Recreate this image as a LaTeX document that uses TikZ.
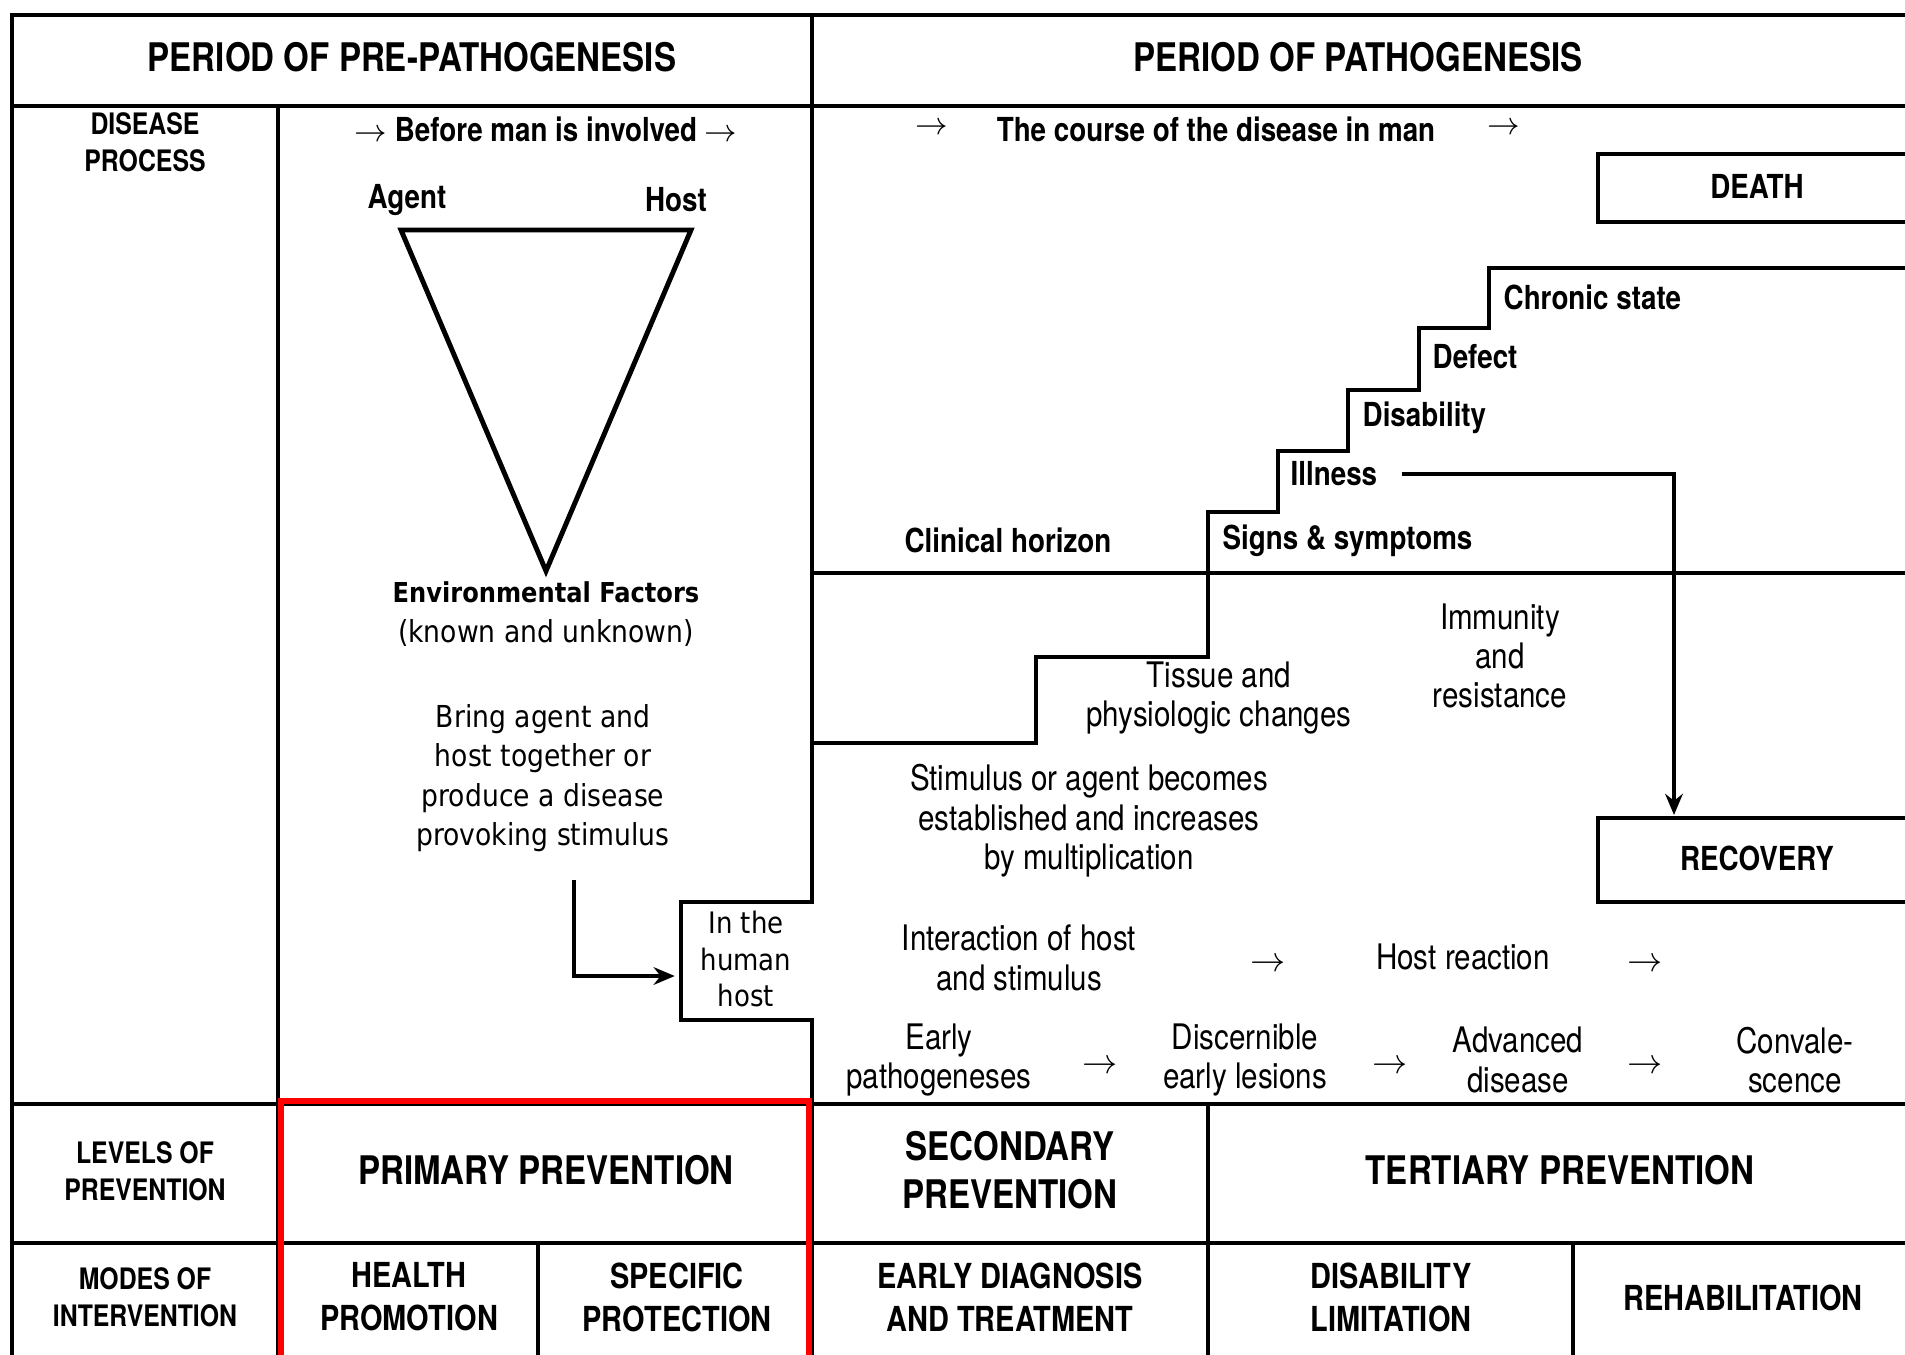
\documentclass[tikz,border=0pt]{standalone}
\usepackage{fontspec}
\setmainfont{TeX Gyre Heros}[FakeStretch=0.84]
\newfontfamily\tahoma{DejaVu Sans}[FakeStretch=0.88]
\usetikzlibrary{arrows.meta}

\newcommand\fsz[2]{\fontsize{#1}{#2}\selectfont}

\begin{document}
\begin{tikzpicture}[x=0.01cm,y=-0.01cm,
  frame/.style={line width=1.4pt},
  thin/.style={line width=1pt},
  hd/.style={font=\bfseries\fsz{11.2pt}{13.5pt},align=center},
  lbl/.style={font=\bfseries\fsz{9.4pt}{11pt}},
  stair/.style={lbl,anchor=west,inner sep=0pt},
  row/.style={font=\bfseries\fsz{8.4pt}{10.5pt},align=center},
  mode/.style={font=\bfseries\fsz{9.8pt}{12.2pt},align=center},
  cn/.style={font=\fsz{10pt}{11.2pt},align=center},
  tw/.style={font=\tahoma\fsz{8.6pt}{11.2pt},align=center},
  arr/.style={line width=1.1pt,-{Stealth[length=6pt,width=5pt]}},
]
\fill[white] (0,0) rectangle (1905,1355);
\useasboundingbox (0,0) rectangle (1905,1355);

% table frame
\draw[frame] (1905,15) -- (12,15) -- (12,1355);
\draw[frame] (12,106) -- (1905,106);
\draw[frame] (278,106) -- (278,1355);
\draw[frame] (812,15) -- (812,902) -- (681,902) -- (681,1020) -- (812,1020) -- (812,1355);
\draw[frame] (12,1104) -- (1905,1104);
\draw[frame] (12,1243) -- (1905,1243);
\draw[frame] (1208,1104) -- (1208,1355);
\draw[thin] (538,1243) -- (538,1355);
\draw[thin] (1573,1243) -- (1573,1355);

% clinical horizon and the stairs
\draw[frame] (812,573) -- (1905,573);
\draw[frame] (812,743) -- (1036,743) -- (1036,657) -- (1208,657) -- (1208,512)
  -- (1278,512) -- (1278,451) -- (1348,451) -- (1348,390) -- (1419,390)
  -- (1419,328) -- (1489,328) -- (1489,268) -- (1905,268);

% death and recovery boxes
\draw[frame] (1905,154) -- (1598,154) -- (1598,222) -- (1905,222);
\draw[frame] (1905,818) -- (1598,818) -- (1598,902) -- (1905,902);

% triangle
\draw[frame] (401,230) -- (691,230) -- (546,571) -- cycle;

% headings
\node[hd] (prepath) at (412,57) {PERIOD OF PRE-PATHOGENESIS};
\node[hd] (path) at (1358,57) {PERIOD OF PATHOGENESIS};

% pre-pathogenesis column
\node[row] (dproc) at (145,142) {DISEASE\\PROCESS};
\node[lbl] (before) at (546,129) {$\rightarrow$ Before man is involved $\rightarrow$};
\node[lbl] (agent) at (407,200) {Agent};
\node[lbl] (host) at (676,200) {Host};
\node[tw] (env) at (546,614) {{\bfseries\fsz{7.8pt}{11.2pt}Environmental Factors}\\(known and unknown)};
\node[tw] (bring) at (543,778) {Bring agent and\\host together or\\produce a disease\\provoking stimulus};
\node[tw,font=\tahoma\fsz{8.4pt}{10.4pt},minimum width=1.31cm,inner sep=0pt] (hhost) at (746,959) {In the\\human\\host};

% pathogenesis column
\node[lbl] (ca1) at (932,129) {$\rightarrow$};
\node[lbl] (course) at (1216,129) {The course of the disease in man};
\node[lbl] (ca2) at (1504,129) {$\rightarrow$};
\node[lbl] (death) at (1757,186) {DEATH};
\node[stair] (chronic) at (1503,297) {Chronic state};
\node[stair] (defect) at (1432,357) {Defect};
\node[stair] (disab) at (1362,418) {Disability};
\node[stair] (illness) at (1290,474) {Illness};
\node[stair] (signs) at (1222,541) {Signs \& symptoms};
\node[lbl] (clin) at (1008,540) {Clinical horizon};
\node[cn] (immun) at (1500,656) {Immunity\\and\\resistance};
\node[cn] (tissue) at (1219,698) {Tissue and\\physiologic changes};
\node[cn] (stim) at (1089,821) {Stimulus or agent becomes\\established and increases\\by multiplication};
\node[lbl] (recovery) at (1757,858) {RECOVERY};
\node[cn] (interact) at (1019,958) {Interaction of host\\and stimulus};
\node[cn] (a1) at (1268,965) {$\rightarrow$};
\node[cn] (hreact) at (1463,957) {Host reaction};
\node[cn] (a2) at (1645,965) {$\rightarrow$};
\node[cn] (early) at (939,1060) {Early\\pathogeneses};
\node[cn] (a3) at (1100,1067) {$\rightarrow$};
\node[cn] (discern) at (1245,1060) {Discernible\\early lesions};
\node[cn] (a4) at (1390,1067) {$\rightarrow$};
\node[cn] (adv) at (1518,1060) {Advanced\\disease};
\node[cn] (a5) at (1645,1067) {$\rightarrow$};
\node[cn] (conv) at (1795,1060) {Convale-\\scence};

% levels of prevention
\node[row] (levels) at (145,1171) {LEVELS OF\\PREVENTION};
\node[hd] (prim) at (546,1170) {PRIMARY PREVENTION};
\node[hd] (sec) at (1010,1170) {SECONDARY\\PREVENTION};
\node[hd] (tert) at (1560,1170) {TERTIARY PREVENTION};

% modes of intervention
\node[row] (modes) at (145,1297) {MODES OF\\INTERVENTION};
\node[mode] (health) at (409,1297) {HEALTH\\PROMOTION};
\node[mode] (spec) at (677,1297) {SPECIFIC\\PROTECTION};
\node[mode] (edx) at (1010,1297) {EARLY DIAGNOSIS\\AND TREATMENT};
\node[mode] (dlim) at (1391,1297) {DISABILITY\\LIMITATION};
\node[mode] (rehab) at (1743,1298) {REHABILITATION};

% arrows
\coordinate (bringfoot) at (574,880);
\coordinate (recvtop) at (1674,815);
\draw[arr] (bringfoot) |- ([yshift=-0.17cm,xshift=-0.05cm]hhost.west);
\draw[arr] ([xshift=0.24cm]illness.east) -| (recvtop);

% primary prevention highlight
\draw[red,line width=1.7pt] (281,1355) -- (281,1101) -- (809,1101) -- (809,1355);
\end{tikzpicture}
\end{document}
